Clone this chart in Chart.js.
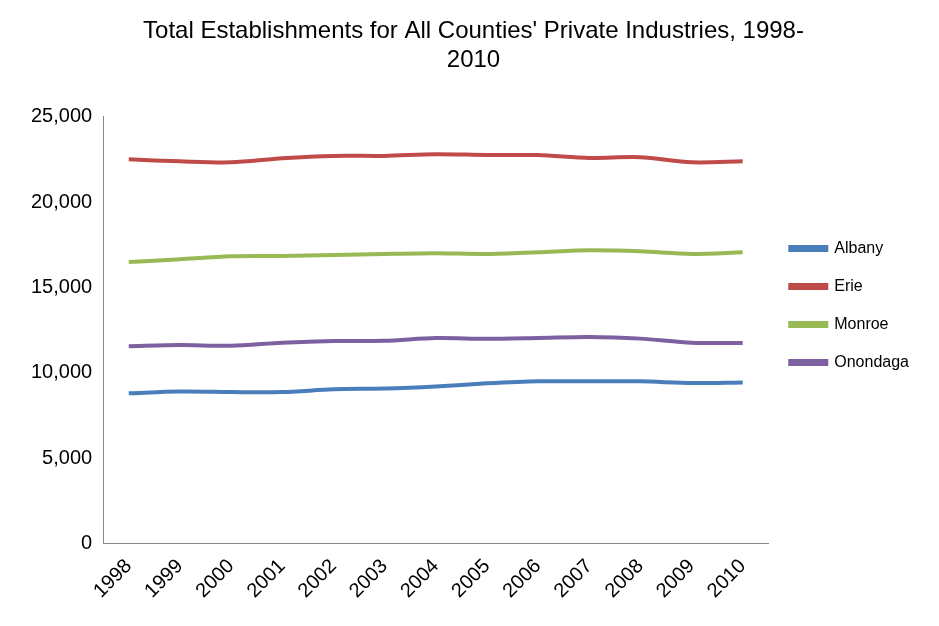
<!DOCTYPE html>
<html>
<head>
<script src="https://cdn.jsdelivr.net/npm/chart.js@4"></script>
<style>body{margin:0;background:#fff}#wrap{width:939px;height:626px}</style>
</head>
<body>
<div id="wrap"><canvas id="c"></canvas></div>
<script>
const years = ["1998","1999","2000","2001","2002","2003","2004","2005","2006","2007","2008","2009","2010"];
const albany = [8800, 8900, 8870, 8870, 9030, 9080, 9200, 9380, 9500, 9500, 9500, 9400, 9430];
const erie = [22500, 22380, 22320, 22560, 22700, 22700, 22800, 22750, 22750, 22580, 22620, 22320, 22380];
const monroe = [16480, 16650, 16820, 16840, 16900, 16960, 17000, 16960, 17060, 17180, 17120, 16960, 17060];
const onondaga = [11560, 11620, 11580, 11760, 11860, 11870, 12030, 11990, 12040, 12100, 12000, 11760, 11740];

const font = "'Liberation Sans', 'DejaVu Sans', sans-serif";
Chart.defaults.font.family = font;
Chart.defaults.color = "#000";

function series(label, data, color) {
  return { label, data, borderColor: color, backgroundColor: color, borderWidth: 4,
    pointRadius: 0, tension: 0.3, fill: false };
}

new Chart(document.getElementById("c"), {
  type: "line",
  data: {
    labels: years,
    datasets: [
      series("Albany", albany, "#4a7ebb"),
      series("Erie", erie, "#be4b48"),
      series("Monroe", monroe, "#98b954"),
      series("Onondaga", onondaga, "#7d60a0")
    ]
  },
  options: {
    responsive: true,
    maintainAspectRatio: false,
    animation: false,
    layout: { padding: { left: 28, right: 20, top: 5, bottom: 20 } },
    plugins: {
      title: {
        display: true,
        text: ["Total Establishments for All Counties' Private Industries, 1998-", "2010"],
        font: { size: 24, weight: "normal" },
        padding: { top: 12, bottom: 42 },
        lineHeight: 1.3
      },
      legend: {
        position: "right",
        labels: { boxWidth: 36, boxHeight: 3, font: { size: 16 }, padding: 22 }
      },
      tooltip: { enabled: false }
    },
    scales: {
      x: {
        offset: true,
        grid: { display: false, drawTicks: true, tickLength: 8, color: "#888" },
        border: { color: "#888" },
        ticks: { font: { size: 20 }, maxRotation: 45, minRotation: 45 }
      },
      y: {
        min: 0, max: 25000,
        ticks: { stepSize: 5000, font: { size: 20 }, callback: v => v.toLocaleString("en-US") },
        grid: { display: false, tickLength: 8 },
        border: { color: "#888" }
      }
    }
  }
});
</script>
</body>
</html>
